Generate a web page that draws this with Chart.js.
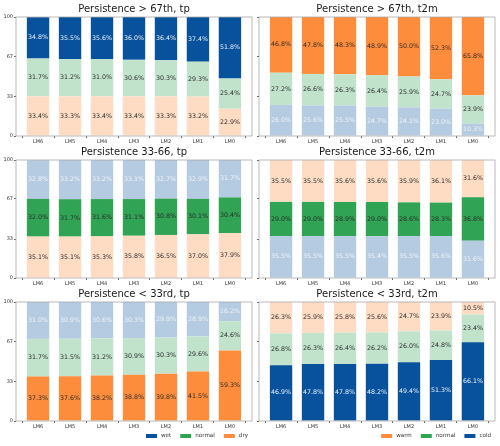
<!DOCTYPE html>
<html lang="en">
<head>
  <meta charset="UTF-8">
  <title>Persistence by lead month</title>
  <script src="https://cdn.jsdelivr.net/npm/chart.js@4.4.0/dist/chart.umd.min.js"></script>
  <style>
    html, body { margin: 0; padding: 0; background: #ffffff; }
    #wrap { position: relative; width: 500px; height: 446px; overflow: hidden; }
    #wrap canvas { position: absolute; }
  </style>
</head>
<body>
  <div id="wrap"></div>

  <script>
    // categories and ticks
    const leadMonths = ['LM6', 'LM5', 'LM4', 'LM3', 'LM2', 'LM1', 'LM0'];
    const yTicks = [0, 33, 67, 100];

    // Persistence > 67th, tp
    const tpHighDry    = [33.4, 33.3, 33.4, 33.4, 33.3, 33.2, 22.9];
    const tpHighNormal = [31.7, 31.2, 31.0, 30.6, 30.3, 29.3, 25.4];
    const tpHighWet    = [34.8, 35.5, 35.6, 36.0, 36.4, 37.4, 51.8];
    // Persistence > 67th, t2m
    const t2mHighCold   = [26.0, 25.6, 25.5, 24.7, 24.1, 23.0, 10.3];
    const t2mHighNormal = [27.2, 26.6, 26.3, 26.4, 25.9, 24.7, 23.9];
    const t2mHighWarm   = [46.8, 47.8, 48.3, 48.9, 50.0, 52.3, 65.8];
    // Persistence 33-66, tp
    const tpMidDry    = [35.1, 35.1, 35.3, 35.8, 36.5, 37.0, 37.9];
    const tpMidNormal = [32.0, 31.7, 31.6, 31.1, 30.8, 30.1, 30.4];
    const tpMidWet    = [32.8, 33.2, 33.2, 33.1, 32.7, 32.9, 31.7];
    // Persistence 33-66, t2m
    const t2mMidCold   = [35.5, 35.5, 35.5, 35.4, 35.5, 35.6, 31.6];
    const t2mMidNormal = [29.0, 29.0, 28.9, 29.0, 28.6, 28.3, 36.8];
    const t2mMidWarm   = [35.5, 35.5, 35.6, 35.6, 35.9, 36.1, 31.6];
    // Persistence < 33rd, tp
    const tpLowDry    = [37.3, 37.6, 38.2, 38.8, 39.8, 41.5, 59.3];
    const tpLowNormal = [31.7, 31.5, 31.2, 30.9, 30.3, 29.6, 24.6];
    const tpLowWet    = [31.0, 30.9, 30.6, 30.3, 29.9, 28.9, 16.2];
    // Persistence < 33rd, t2m
    const t2mLowCold   = [46.9, 47.8, 47.8, 48.2, 49.4, 51.3, 66.1];
    const t2mLowNormal = [26.8, 26.3, 26.4, 26.2, 26.0, 24.8, 23.4];
    const t2mLowWarm   = [26.3, 25.9, 25.8, 25.6, 24.7, 23.9, 10.5];

    // colours: strong for the highlighted class, pale for the others
    const BLUE = '#08519c', GREEN = '#31a354', ORANGE = '#fd8d3c';
    const PALE = { [BLUE]: '#b5cbe1', [GREEN]: '#c1e3cc', [ORANGE]: '#fedcc4' };
    const FONT = 'DejaVu Sans';

    // layout of the 3x2 grid (pixels)
    const cols = [
      { left: 0, width: 255, yW: 16, padR: 3, showY: true },
      { left: 255, width: 245, yW: 4, padR: 5, showY: false }
    ];
    const rows = [
      { plotTop: 17, plotBottom: 136, bottom: 148 },
      { plotTop: 160, plotBottom: 278, bottom: 290 },
      { plotTop: 302, plotBottom: 421, bottom: 446 }
    ];

    function series(label, data, color, strong) {
      return { label, data, color, strong };
    }

    const panels = [
      { title: 'Persistence > 67th, tp', row: 0, col: 0, stack: [
        series('dry', tpHighDry, ORANGE, false), series('normal', tpHighNormal, GREEN, false), series('wet', tpHighWet, BLUE, true)] },
      { title: 'Persistence > 67th, t2m', row: 0, col: 1, stack: [
        series('cold', t2mHighCold, BLUE, false), series('normal', t2mHighNormal, GREEN, false), series('warm', t2mHighWarm, ORANGE, true)] },
      { title: 'Persistence 33-66, tp', row: 1, col: 0, stack: [
        series('dry', tpMidDry, ORANGE, false), series('normal', tpMidNormal, GREEN, true), series('wet', tpMidWet, BLUE, false)] },
      { title: 'Persistence 33-66, t2m', row: 1, col: 1, stack: [
        series('cold', t2mMidCold, BLUE, false), series('normal', t2mMidNormal, GREEN, true), series('warm', t2mMidWarm, ORANGE, false)] },
      { title: 'Persistence < 33rd, tp', row: 2, col: 0, legend: ['wet', 'normal', 'dry'], stack: [
        series('dry', tpLowDry, ORANGE, true), series('normal', tpLowNormal, GREEN, false), series('wet', tpLowWet, BLUE, false)] },
      { title: 'Persistence < 33rd, t2m', row: 2, col: 1, legend: ['warm', 'normal', 'cold'], stack: [
        series('cold', t2mLowCold, BLUE, true), series('normal', t2mLowNormal, GREEN, false), series('warm', t2mLowWarm, ORANGE, false)] }
    ];

    const legendColor = { wet: BLUE, cold: BLUE, normal: GREEN, dry: ORANGE, warm: ORANGE };

    // percent labels in the middle of each segment
    const segmentLabels = {
      id: 'segmentLabels',
      afterDatasetsDraw(chart) {
        const ctx = chart.ctx;
        ctx.save();
        ctx.font = '6.3px "' + FONT + '"';
        ctx.textAlign = 'center';
        ctx.textBaseline = 'middle';
        chart.data.datasets.forEach((ds, i) => {
          ctx.fillStyle = ds.labelColor;
          chart.getDatasetMeta(i).data.forEach((bar, j) => {
            ctx.fillText(ds.data[j].y.toFixed(1) + '%', bar.x, (bar.y + bar.base) / 2);
          });
        });
        ctx.restore();
      }
    };

    // axes frame, title and legend
    const panelDecor = {
      id: 'panelDecor',
      afterDraw(chart, args, opts) {
        const ctx = chart.ctx;
        const a = chart.chartArea;
        ctx.save();
        ctx.strokeStyle = '#a8a8a8';
        ctx.lineWidth = 0.8;
        ctx.strokeRect(a.left, a.top, a.right - a.left, a.bottom - a.top);

        ctx.fillStyle = '#1a1a1a';
        ctx.font = '10px "' + FONT + '"';
        ctx.textAlign = 'center';
        ctx.textBaseline = 'middle';
        ctx.fillText(opts.title, (a.left + a.right) / 2, a.top - 8);

        if (opts.legend) {
          ctx.font = '5.6px "' + FONT + '"';
          ctx.textAlign = 'left';
          const gap = 9, patch = 11;
          const widths = opts.legend.map(l => patch + 4 + ctx.measureText(l).width);
          const total = widths.reduce((s, w) => s + w, 0) + gap * (widths.length - 1);
          let x = a.right - 4 - total;
          const y = a.bottom + 15;
          opts.legend.forEach((l, i) => {
            ctx.fillStyle = legendColor[l];
            ctx.fillRect(x, y - 2, patch, 4);
            ctx.fillStyle = '#333333';
            ctx.fillText(l, x + patch + 4, y);
            x += widths[i] + gap;
          });
        }
        ctx.restore();
      }
    };

    const wrap = document.getElementById('wrap');

    panels.forEach(p => {
      const col = cols[p.col];
      const row = rows[p.row];
      const top = row.plotTop - 17;
      const height = row.bottom - top;
      const xH = row.bottom - row.plotBottom;

      const canvas = document.createElement('canvas');
      canvas.width = col.width;
      canvas.height = height;
      canvas.style.left = col.left + 'px';
      canvas.style.top = top + 'px';
      wrap.appendChild(canvas);

      new Chart(canvas.getContext('2d'), {
        type: 'bar',
        data: {
          datasets: p.stack.map(s => ({
            label: s.label,
            data: s.data.map((v, i) => ({ x: i, y: v })),
            backgroundColor: s.strong ? s.color : PALE[s.color],
            borderWidth: 0,
            barPercentage: 0.7,
            categoryPercentage: 1,
            labelColor: (s.color === BLUE) ? '#eef2f8' : '#2b2b2b'
          }))
        },
        options: {
          responsive: false,
          animation: false,
          layout: { padding: { top: 17, left: 0, right: col.padR, bottom: 0 } },
          plugins: {
            legend: { display: false },
            tooltip: { enabled: false },
            panelDecor: { title: p.title, legend: p.legend }
          },
          scales: {
            x: {
              type: 'linear',
              stacked: true,
              min: -0.69,
              max: 6.69,
              offset: false,
              border: { display: false },
              grid: { drawOnChartArea: false, tickLength: 2, tickColor: '#666666' },
              ticks: {
                font: { family: FONT, size: 5 },
                color: '#333333',
                padding: 1,
                autoSkip: false,
                maxRotation: 0,
                callback: v => leadMonths[v]
              },
              afterBuildTicks: s => { s.ticks = leadMonths.map((_, i) => ({ value: i })); },
              afterFit: s => { s.height = xH; }
            },
            y: {
              stacked: true,
              min: 0,
              max: 100,
              border: { display: false },
              grid: { drawOnChartArea: false, tickLength: 2, tickColor: '#666666' },
              ticks: {
                display: col.showY,
                font: { family: FONT, size: 5 },
                color: '#333333',
                padding: 1
              },
              afterBuildTicks: s => { s.ticks = yTicks.map(v => ({ value: v })); },
              afterFit: s => { s.width = col.yW; }
            }
          }
        },
        plugins: [segmentLabels, panelDecor]
      });
    });
  </script>
</body>
</html>
